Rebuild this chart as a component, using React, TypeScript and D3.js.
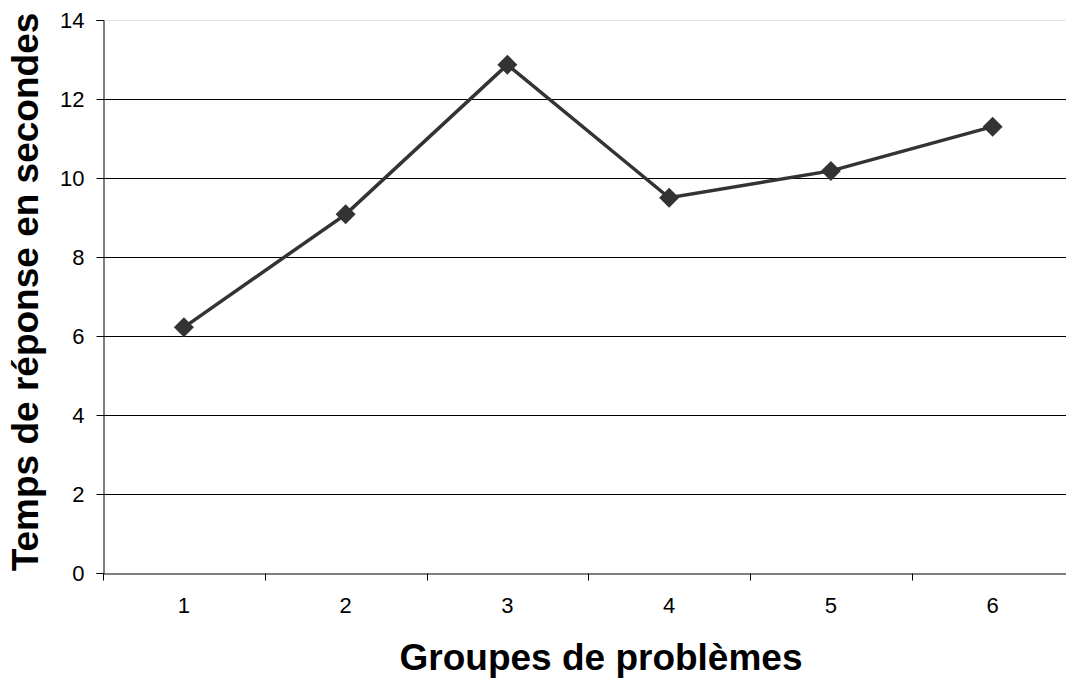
import * as d3 from "d3";
import { useEffect, useRef } from "react";

const groups = ["1", "2", "3", "4", "5", "6"];
const times = [6.22, 9.08, 12.87, 9.5, 10.18, 11.3];
const yTicks = [0, 2, 4, 6, 8, 10, 12, 14];

export default function App() {
  const svgRef = useRef<SVGSVGElement | null>(null);

  useEffect(() => {
    const width = 1066;
    const height = 679;
    const margin = { top: 20, left: 103, bottom: 106 };
    const plotW = 970.5;

    const svg = d3.select(svgRef.current)
      .attr("width", width)
      .attr("height", height)
      .html("");

    const font = "'Liberation Sans', Arial, sans-serif";

    const x = d3.scaleBand()
      .domain(groups)
      .range([margin.left, margin.left + plotW]);

    const y = d3.scaleLinear()
      .domain([0, 14])
      .range([height - margin.bottom, margin.top]);

    // gridlines
    svg.append("g")
      .selectAll("line")
      .data(yTicks.filter(t => t > 0))
      .enter()
      .append("line")
      .attr("x1", margin.left)
      .attr("x2", margin.left + plotW)
      .attr("y1", d => Math.round(y(d)) + 0.5)
      .attr("y2", d => Math.round(y(d)) + 0.5)
      .attr("stroke", d => (d === 14 ? "#e4e4e4" : "#000"))
      .attr("stroke-width", 1);

    // y axis
    const yAxis = svg.append("g")
      .attr("transform", `translate(${margin.left + 0.5},0)`)
      .call(d3.axisLeft(y).tickValues(yTicks).tickSize(7).tickPadding(12));
    yAxis.selectAll("text")
      .attr("font-family", font)
      .attr("font-size", 22)
      .attr("fill", "#000");
    yAxis.selectAll("line").attr("stroke", "#000");
    yAxis.select(".domain").attr("stroke", "#000");
    yAxis.selectAll(".tick").attr("transform", d => `translate(0,${Math.round(y(d as number)) + 0.5})`);

    // x axis
    const xAxis = svg.append("g")
      .attr("transform", `translate(0,${Math.round(y(0)) + 0.5})`)
      .call(d3.axisBottom(x).tickSize(0).tickPadding(24));
    xAxis.select(".domain").attr("stroke", "#000");
    xAxis.selectAll("text")
      .attr("font-family", font)
      .attr("font-size", 22)
      .attr("fill", "#000");

    // x tick marks at band boundaries
    xAxis.append("g")
      .selectAll("line")
      .data(groups)
      .enter()
      .append("line")
      .attr("x1", d => Math.round(x(d)!) + 0.5)
      .attr("x2", d => Math.round(x(d)!) + 0.5)
      .attr("y1", 0)
      .attr("y2", 7)
      .attr("stroke", "#000");

    const cx = (d: string) => x(d)! + x.bandwidth() / 2;

    // line
    const line = d3.line<number>()
      .x((_, i) => cx(groups[i]))
      .y(d => y(d));

    svg.append("path")
      .datum(times)
      .attr("d", line)
      .attr("fill", "none")
      .attr("stroke", "#333")
      .attr("stroke-width", 3.5);

    // diamond markers
    svg.append("g")
      .selectAll("path")
      .data(times)
      .enter()
      .append("path")
      .attr("d", d3.symbol(d3.symbolSquare, 200)())
      .attr("transform", (d, i) => `translate(${cx(groups[i])},${y(d)}) rotate(45)`)
      .attr("fill", "#333");

    // axis titles
    svg.append("text")
      .attr("x", 601)
      .attr("y", 670)
      .attr("text-anchor", "middle")
      .attr("font-family", font)
      .attr("font-weight", "bold")
      .attr("font-size", 37)
      .text("Groupes de problèmes");

    svg.append("text")
      .attr("transform", `translate(38,292) rotate(-90)`)
      .attr("text-anchor", "middle")
      .attr("font-family", font)
      .attr("font-weight", "bold")
      .attr("font-size", 37)
      .text("Temps de réponse en secondes");
  }, []);

  return (
    <svg
      ref={svgRef}
      style={{ position: "absolute", left: 0, top: 0, background: "#fff" }}
    />
  );
}
